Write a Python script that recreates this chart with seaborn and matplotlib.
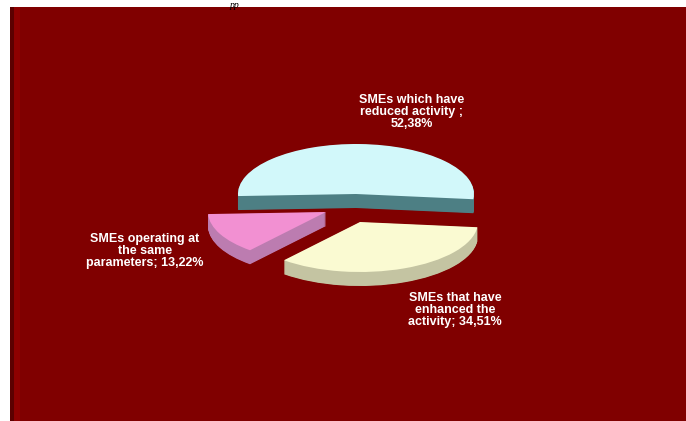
import matplotlib
matplotlib.use("Agg")
import matplotlib.pyplot as plt
from matplotlib.patches import Rectangle
import seaborn as sns

# ---- data ----
categories = ["SMEs which have\nreduced activity ;",
              "SMEs operating at\nthe same\nparameters;",
              "SMEs that have\nenhanced the\nactivity;"]
values = [52.38, 13.22, 34.51]
value_labels = ["52,38%", "13,22%", "34,51%"]

sns.set_style("white")
plt.rcParams["font.family"] = ["Liberation Sans", "DejaVu Sans"]

top_colors = ["#d2f8fa", "#f290d2", "#fafad2"]
side_colors = ["#4d7f84", "#bc7cb0", "#c4c4a2"]

W, H = 686, 421
fig = plt.figure(figsize=(W / 100, H / 100), dpi=100, facecolor="white")

# background panel (own axes, behind the pie)
bg = fig.add_axes([0, 0, 1, 1], zorder=0)
bg.axis("off")
bg.set_xlim(0, W)
bg.set_ylim(H, 0)
bg.add_patch(Rectangle((10, 7), W - 10, H - 7, facecolor="#800000", edgecolor="none"))
bg.add_patch(Rectangle((10, 7), 4, H - 7, facecolor="#5c0000", edgecolor="none"))
bg.add_patch(Rectangle((14, 7), 6, H - 7, facecolor="#8e0000", edgecolor="none"))

ax = fig.add_axes([0, 0, 1, 1], zorder=1)
ax.patch.set_alpha(0)

sx, sy = 118.0, 50.0   # pixels per data unit (tilted pie)
cx, cy = 352.0, 210.0  # reference point in pixels
# apex of each exploded slice, in pixels
apex_px = [(356, 194), (326, 212), (360, 222)]
apex = [((px - cx) / sx, (cy - py) / sy) for px, py in apex_px]
depth = 14.0 / sy
nlayers = 28
zbase = [1, 2, 3]
start = -6

for k in range(nlayers, 0, -1):
    off = depth * k / nlayers
    wedges, _ = ax.pie(values, startangle=start, counterclock=True,
                       colors=side_colors, radius=1, wedgeprops=dict(linewidth=0))
    for i, w in enumerate(wedges):
        w.set_center((apex[i][0], apex[i][1] - off))
        w.set_zorder(zbase[i] + 0.01 * (nlayers - k))

wedges, _ = ax.pie(values, startangle=start, counterclock=True,
                   colors=top_colors, radius=1, wedgeprops=dict(linewidth=0))
for i, w in enumerate(wedges):
    w.set_center(apex[i])
    w.set_zorder(zbase[i] + 0.5)

ax.set_aspect("auto")
ax.set_xlim(-cx / sx, (W - cx) / sx)
ax.set_ylim((cy - H) / sy, cy / sy)
ax.axis("off")

label_pos = [(412, 112), (145, 251), (455, 310)]
for (px, py), cat, vl in zip(label_pos, categories, value_labels):
    txt = cat + ("\n" if cat.endswith(" ;") else " ") + vl
    fig.text(px / W, 1 - py / H, txt, color="white", fontsize=9, fontweight="bold",
             ha="center", va="center", multialignment="center", linespacing=1.05, zorder=10)

# caption fragment at the very top
fig.text(234 / W, 1 - 0.5 / H, "pp", fontsize=7, style="italic", family="Liberation Serif",
         color="black", ha="center", va="top", zorder=10)

fig.savefig("out.png", dpi=100, facecolor="white")
